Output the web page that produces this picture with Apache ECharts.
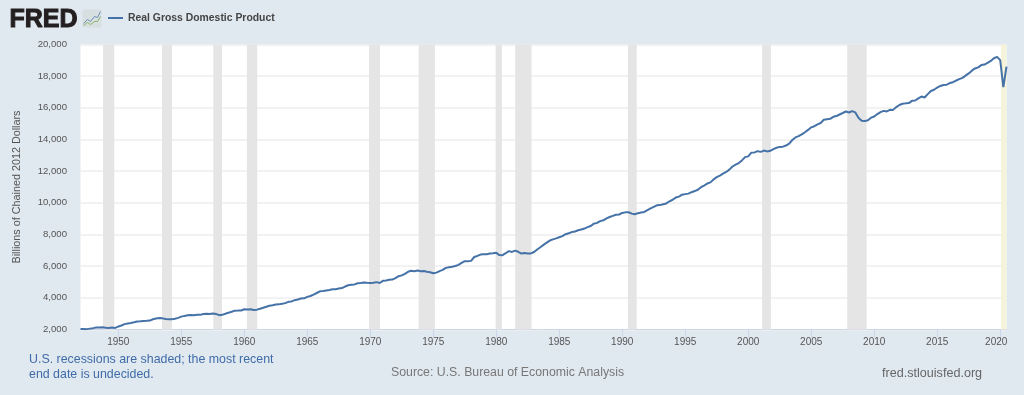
<!DOCTYPE html>
<html><head><meta charset="utf-8">
<style>html,body{margin:0;padding:0;background:#e1e9f0}#c{width:1024px;height:395px}</style>
<script src="https://cdn.jsdelivr.net/npm/echarts@6/dist/echarts.min.js"></script>
</head><body><div id="c"></div>
<script>
const seriesName = 'Real Gross Domestic Product';
const firstYear = 1947;
const gdp = [
2033,2028,2023,2055, 2086,2120,2133,2135, 2106,2098,2120,2102,
2185,2252,2339,2383, 2416,2458,2508,2514, 2541,2546,2564,2649,
2698,2719,2703,2662, 2650,2653,2683,2735, 2813,2859,2898,2915,
2904,2928,2925,2973, 2992,2986,3015,2984, 2906,2925,2993,3063,
3122,3192,3195,3204, 3276,3258,3274,3232, 3254,3309,3373,3439,
3500,3532,3575,3587, 3626,3667,3747,3772, 3851,3893,3954,3966,
4062,4114,4205,4305, 4410,4425,4462,4499, 4538,4541,4585,4619,
4713,4792,4829,4848, 4924,4939,4971,4947, 4940,4947,4992,4939,
5073,5100,5142,5155, 5249,5368,5419,5510, 5646,5708,5678,5732,
5682,5696,5643,5620, 5552,5591,5687,5764, 5893,5937,5969,6012,
6083,6202,6314,6314, 6334,6579,6645,6734, 6746,6753,6804,6821,
6842,6701,6693,6818, 6951,6900,6983,6907, 6799,6830,6804,6807,
6897,7054,7195,7345, 7488,7618,7691,7754, 7829,7898,8019,8078,
8154,8191,8269,8313, 8375,8466,8539,8686, 8731,8845,8897,9016,
9107,9177,9245,9263, 9364,9398,9404,9319, 9275,9348,9395,9428,
9540,9644,9739,9841, 9857,9915,9962,10097, 10195,10333,10394,10513,
10550,10582,10672,10744, 10825,10989,11094,11219, 11292,11479,11623,11723,
11840,11949,12099,12295, 12411,12514,12680,12888, 12935,13171,13184,13262,
13219,13301,13248,13285, 13395,13477,13532,13549, 13619,13741,13970,14131,
14212,14323,14458,14606, 14768,14840,14956,15041, 15244,15282,15305,15434,
15479,15578,15672,15767, 15703,15793,15710,15367, 15187,15162,15217,15379,
15456,15606,15726,15808, 15770,15877,15871,16049, 16180,16254,16282,16300,
16441,16464,16595,16713, 16654,16868,17065,17141, 17281,17381,17437,17463,
17565,17619,17724,17812, 17897,18031,18173,18347, 18488,18556,18700,18733,
18835,18962,19130,19216, 19011,17303,18597
];
const recessions = [
[1948.79,1949.68],[1953.47,1954.26],[1957.54,1958.23],[1960.21,1961.03],
[1969.9,1970.77],[1973.84,1975.13],[1979.95,1980.45],[1981.5,1982.8],
[1990.45,1991.15],[2001.1,2001.8],[2007.86,2009.4]
];
const undecided = [[2020.06,2020.5]];
const yearTicks = [1950,1955,1960,1965,1970,1975,1980,1985,1990,1995,2000,2005,2010,2015,2020];
const yTitle = 'Billions of Chained 2012 Dollars';
const note = 'U.S. recessions are shaded; the most recent\nend date is undecided.';
const source = 'Source: U.S. Bureau of Economic Analysis';
const site = 'fred.stlouisfed.org';

const points = gdp.map((v,i)=>[firstYear+i/4,v]);
const font = '"Liberation Sans",Arial,sans-serif';
const lastTick = yearTicks[yearTicks.length-1];
const chart = echarts.init(document.getElementById('c'),null,{renderer:'canvas'});
chart.setOption({
  animation:false,
  backgroundColor:'#e1e9f0',
  grid:{left:80.5,right:17.5,top:44.5,bottom:65.5,show:true,backgroundColor:'#fff',borderWidth:0},
  legend:{show:true,left:103,top:8,itemWidth:15,itemHeight:2,itemGap:5,
    data:[{name:seriesName,icon:'rect'}],
    textStyle:{fontFamily:font,fontSize:10.4,fontWeight:'bold',color:'#444',padding:[0,0,0,0]}},
  xAxis:{type:'value',min:firstYear,max:2020.5,
    splitLine:{show:false},
    axisLine:{show:true,onZero:false,lineStyle:{color:'#ccd6eb',width:1}},
    axisTick:{show:true,length:8,lineStyle:{color:'#ccd6eb'},customValues:yearTicks},
    axisLabel:{fontFamily:font,fontSize:10,color:'#555',margin:8,customValues:yearTicks,
      formatter:v=>v===lastTick?'{e|'+v+'}':String(v),
      rich:{e:{fontFamily:font,fontSize:10,color:'#555',padding:[0,8,0,0]}}}},
  yAxis:{type:'value',min:2000,max:20000,interval:2000,
    name:yTitle,nameLocation:'middle',nameRotate:90,nameGap:58,
    nameTextStyle:{fontFamily:font,fontSize:10.8,color:'#555'},
    axisLine:{show:false},axisTick:{show:false},
    splitLine:{show:true,lineStyle:{color:'#eeeeee',width:1.5}},
    axisLabel:{fontFamily:font,fontSize:9.6,color:'#555',margin:13.5,padding:[2,0,0,0]}},
  series:[{
    name:seriesName,type:'line',data:points,showSymbol:false,smooth:false,z:5,
    lineStyle:{color:'#4572a7',width:2},itemStyle:{color:'#4572a7'},
    markArea:{silent:true,z:1,
      data:recessions.map(r=>[{xAxis:r[0],itemStyle:{color:'#e5e5e5'}},{xAxis:r[1]}])
        .concat(undecided.map(r=>[{xAxis:r[0],itemStyle:{color:'#f5f3da'}},{xAxis:r[1]}]))}
  }],
  graphic:[
    {type:'text',left:9,top:7,style:{text:'FRED',font:'bold 25px '+font,fill:'#231f20',stroke:'#231f20',lineWidth:1}},
    {type:'group',left:81,top:9,children:[
      {type:'rect',shape:{x:0,y:0,width:19,height:18,r:2},style:{fill:'#d8dfe0'}},
      {type:'polyline',shape:{points:[[1,14],[5,10],[8,12],[12,7],[15,8],[18,2]]},style:{stroke:'#6b8fb5',fill:null,lineWidth:1}},
      {type:'polyline',shape:{points:[[1,16],[5,13],[8,15],[12,12],[15,12],[18,7]]},style:{stroke:'#8fb36a',fill:null,lineWidth:1}}
    ]},
    {type:'text',left:29,top:352,style:{text:note,font:'12.4px '+font,fill:'#3f6ca8',lineHeight:15}},
    {type:'text',left:391,top:367,style:{text:source,font:'12.3px '+font,fill:'#777'}},
    {type:'text',left:882,top:367,style:{text:site,font:'12.6px '+font,fill:'#666'}}
  ]
});
</script></body></html>
